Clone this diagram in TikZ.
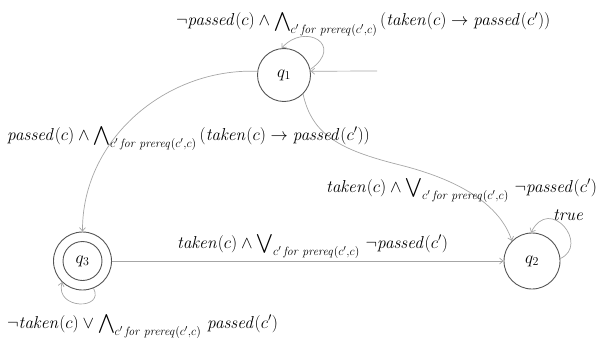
\documentclass[tikz,border=0pt]{standalone}
\usepackage{graphicx}
\usetikzlibrary{arrows.meta}
\definecolor{edgegray}{HTML}{A6A6A6}
\definecolor{nodegray}{HTML}{555555}
\newcommand{\BigAnd}{\mathop{\vcenter{\hbox{\scalebox{1.5}[1.35]{$\displaystyle\bigwedge$}}}}\nolimits}
\newcommand{\BigOr}{\mathop{\vcenter{\hbox{\scalebox{1.5}[1.35]{$\displaystyle\bigvee$}}}}\nolimits}
\newcommand{\Pre}{c'\,\mathit{for}\;\mathit{prereq}(c',c)}
\begin{document}
\begin{tikzpicture}[x=1pt,y=-1pt,
  state/.style={circle,draw=nodegray,line width=0.9pt,inner sep=0pt,font=\fontsize{18}{21}\selectfont},
  edge/.style={draw=edgegray,line width=0.7pt,-{Straight Barb[length=3.5pt,width=6pt]}},
  lbl/.style={anchor=base west,inner sep=0pt,font=\fontsize{17.8}{21}\selectfont}]
\useasboundingbox (0,0) rectangle (602,353);
\node[state,minimum size=53pt] (q1) at (284,75) {$q_1$};
\node[state,minimum size=56pt] (q2) at (532,261) {$q_2$};
\node[state,minimum size=58pt] (q3) at (82.5,261) {$q_3$};
\draw[draw=nodegray,line width=0.9pt] (q3) circle[radius=19.5pt];
\coordinate (init) at (377,71);
\draw[edge] (init) -- (q1.8);
\draw[edge] (q1.12) .. controls (345,45) and (305,22) .. (q1.95);
\draw[edge] (q1.172) .. controls (165,68) and (82,140) .. (q3.north);
\draw[edge] (q1.-45) .. controls (312,135) and (340,150) .. (400,165) .. controls (460,180) and (500,205) .. (q2.135);
\draw[edge] (q3.east) -- (q2.west);
\draw[edge] (q2.5) .. controls (590,245) and (550,195) .. (q2.92);
\draw[edge] (q3.-68) .. controls (105,310) and (55,310) .. (q3.-134);
\node[lbl] (l1) at (176,26) {$\neg\mathit{passed}(c) \wedge \BigAnd_{\Pre}\,(\mathit{taken}(c) \rightarrow \mathit{passed}(c'))$};
\node[lbl] (l2) at (7,140) {$\mathit{passed}(c) \wedge \BigAnd_{\Pre}\,(\mathit{taken}(c) \rightarrow \mathit{passed}(c'))$};
\node[lbl] (l3) at (326,192) {$\mathit{taken}(c) \wedge \BigOr_{\Pre}\,\neg\mathit{passed}(c')$};
\node[lbl] (l4) at (177,248) {$\mathit{taken}(c) \wedge \BigOr_{\Pre}\,\neg\mathit{passed}(c')$};
\node[lbl] (l5) at (7,328) {$\neg\mathit{taken}(c) \vee \BigAnd_{\Pre}\,\mathit{passed}(c')$};
\node[lbl] (tl) at (553,220) {$\mathit{true}$};
\end{tikzpicture}
\end{document}
